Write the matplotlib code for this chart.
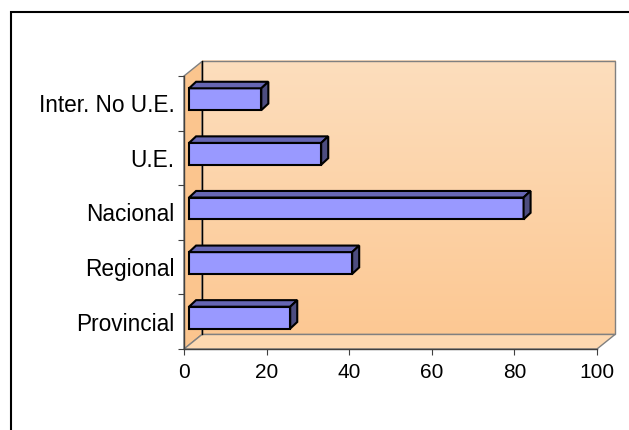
import numpy as np
import matplotlib.pyplot as plt
from matplotlib.patches import Polygon, Rectangle
from matplotlib.colors import LinearSegmentedColormap

plt.rcParams['font.family'] = ['Liberation Sans', 'DejaVu Sans']

# datos (de abajo hacia arriba)
categorias = ['Provincial', 'Regional', 'Nacional', 'U.E.', 'Inter. No U.E.']
valores = [24.5, 39.5, 81, 32, 17.5]
ticks_x = [0, 20, 40, 60, 80, 100]

W, H = 629, 430
fig = plt.figure(figsize=(W / 100, H / 100), dpi=100)
fig.patch.set_facecolor('white')

# plano frontal del grafico 3D
ax = fig.add_axes([184 / W, 1 - 349 / H, 413 / W, 273 / H])
ax.set_facecolor('none')
n = len(categorias)

# profundidad del efecto 3D (en unidades de datos)
DX, DY = 4.36, 0.266
f = 0.28            # posicion de la cara frontal de las barras
bdx, bdy = 1.7, 0.12  # grosor de las barras
alto = 0.40

borde = '#808080'

# pared del fondo con degradado
grad = LinearSegmentedColormap.from_list('fondo', ['#FCC893', '#FDDEBD'])
ax.imshow(np.linspace(0, 1, 256).reshape(-1, 1), cmap=grad, origin='lower',
          extent=[DX, 100 + DX, DY, n + DY], aspect='auto', zorder=0,
          interpolation='bilinear', clip_on=False)
ax.add_patch(Polygon([(DX, DY), (100 + DX, DY), (100 + DX, n + DY), (DX, n + DY)],
                     closed=True, fill=False, ec=borde, lw=1, zorder=1, clip_on=False))

# pared lateral izquierda
ax.add_patch(Polygon([(0, 0), (DX, DY), (DX, n + DY), (0, n)], closed=True,
                     fc='#FBC58E', ec=borde, lw=1, zorder=1, clip_on=False))
# piso
ax.add_patch(Polygon([(0, 0), (100, 0), (100 + DX, DY), (DX, DY)], closed=True,
                     fc='#FDD8B0', ec=borde, lw=1, zorder=1, clip_on=False))
ax.plot([DX, DX], [DY, n + DY], color='black', lw=1, zorder=1, clip_on=False)

# barras
x0 = f * DX
ys = np.arange(n) + 0.5 + f * DY
ax.barh(ys, valores, height=alto, left=x0, color='#9999FF', edgecolor='black',
        linewidth=1.5, zorder=3)
for y, v in zip(ys, valores):
    y0, y1 = y - alto / 2, y + alto / 2
    arriba = [(x0, y1), (x0 + bdx, y1 + bdy), (x0 + v + bdx, y1 + bdy), (x0 + v, y1)]
    lado = [(x0 + v, y0), (x0 + v + bdx, y0 + bdy), (x0 + v + bdx, y1 + bdy), (x0 + v, y1)]
    ax.add_patch(Polygon(arriba, closed=True, fc='#6666B3', ec='black', lw=1.5, zorder=3))
    ax.add_patch(Polygon(lado, closed=True, fc='#4D4D80', ec='black', lw=1.5, zorder=3))

ax.set_xlim(0, 100)
ax.set_ylim(0, n)
for s in ['top', 'right']:
    ax.spines[s].set_visible(False)
for s in ['left', 'bottom']:
    ax.spines[s].set_color('#404040')
    ax.spines[s].set_linewidth(1)

ax.set_xticks(ticks_x)
ax.set_xticklabels([str(t) for t in ticks_x], fontsize=15)
ax.set_yticks(np.arange(n + 1))
ax.set_yticklabels([])
ax.set_yticks(np.arange(n) + 0.5, minor=True)
ax.set_yticklabels(categorias, minor=True, fontsize=16.3)
ax.tick_params(axis='y', which='major', length=4, direction='out', color='#404040')
ax.tick_params(axis='y', which='minor', length=0, pad=7)
ax.tick_params(axis='x', length=4, direction='out', color='#404040', pad=6)

# marco exterior
fig.add_artist(Rectangle((11 / W, -0.05), 1.1, 1 - 12 / H + 0.05,
                         transform=fig.transFigure, fill=False, ec='black', lw=1.5))

fig.savefig('out.png', dpi=100)
